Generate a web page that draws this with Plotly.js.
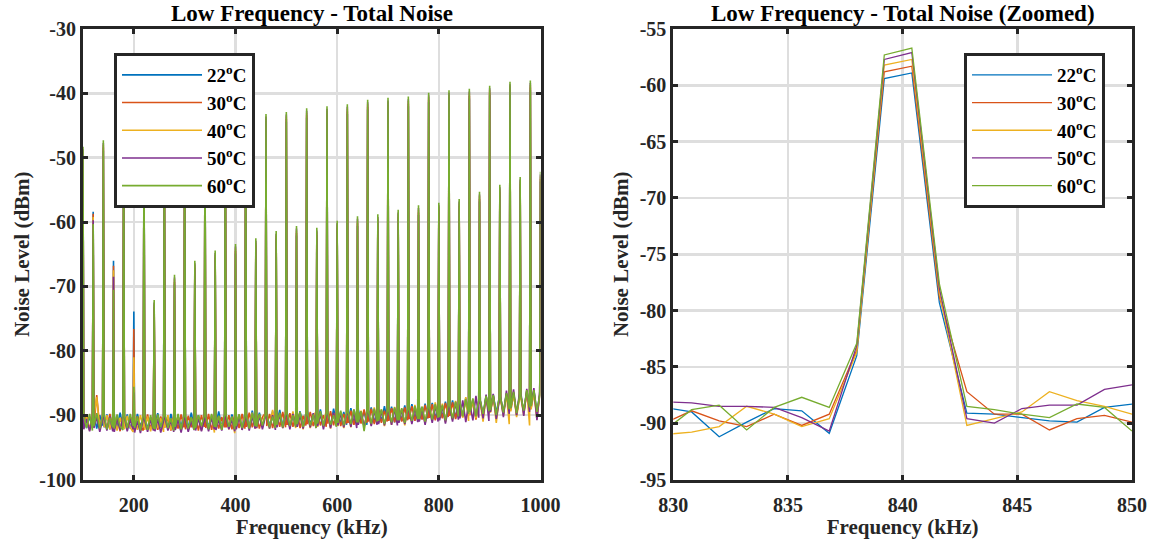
<!DOCTYPE html>
<html>
<head>
<meta charset="utf-8">
<script src="https://cdn.plot.ly/plotly-3.0.1.min.js"></script>
<style>html,body{margin:0;padding:0;background:#fff;}#chart{width:1151px;height:542px;}</style>
</head>
<body>
<div id="chart"></div>
<script>
// ---------- DATA ----------
const seriesNames = ['22<sup>o</sup>C', '30<sup>o</sup>C', '40<sup>o</sup>C', '50<sup>o</sup>C', '60<sup>o</sup>C'];
const seriesColors = ['#0072BD', '#D95319', '#EDB120', '#7E2F8E', '#77AC30'];

// Left panel: harmonic tones every 20 kHz (100..1000 kHz) and noise samples between them
const harmonicStep = 20;
const harmonicStart = 100;
const harmonicCount = 46;
const noiseOffsets = [1.5, 7, 13, 18.5]; // kHz after each harmonic

const peak22 = [-49.8, -58.4, -48.9, -66.0, -48.4, -73.9, -47.9, -73.6, -47.4, -69.7, -46.8, -67.5, -46.4, -65.9, -45.9, -64.9, -45.4, -64.0, -44.7, -62.9, -44.4, -62.1, -43.8, -62.4, -43.5, -61.3, -43.2, -60.6, -42.5, -60.3, -42.2, -59.6, -42.0, -58.9, -41.4, -58.5, -41.0, -57.9, -40.8, -56.8, -40.3, -55.7, -39.7, -54.5, -39.5, -53.7];
const peak30 = [-49.4, -58.7, -48.4, -66.8, -48.0, -76.6, -47.5, -73.2, -47.0, -69.3, -46.4, -67.1, -46.0, -65.5, -45.5, -64.5, -45.0, -63.6, -44.3, -62.5, -44.0, -61.7, -43.4, -62.0, -43.1, -60.9, -42.8, -60.2, -42.1, -59.9, -41.8, -59.2, -41.6, -58.5, -41.0, -58.1, -40.6, -57.5, -40.4, -56.4, -39.9, -55.3, -39.3, -54.1, -39.1, -53.3];
const peak40 = [-49.0, -59.2, -48.0, -67.5, -47.6, -81.0, -47.1, -72.8, -46.6, -68.9, -46.0, -66.7, -45.6, -65.1, -45.1, -64.1, -44.6, -63.2, -43.9, -62.1, -43.6, -61.3, -43.0, -61.6, -42.7, -60.5, -42.4, -59.8, -41.7, -59.5, -41.4, -58.8, -41.2, -58.1, -40.6, -57.7, -40.2, -57.1, -40.0, -56.0, -39.5, -54.9, -38.9, -53.7, -38.7, -52.9];
const peak50 = [-48.7, -59.7, -47.7, -68.5, -47.3, -86.5, -46.8, -72.5, -46.3, -68.6, -45.7, -66.4, -45.3, -64.8, -44.8, -63.8, -44.3, -62.9, -43.6, -61.8, -43.3, -61.0, -42.7, -61.3, -42.4, -60.2, -42.1, -59.5, -41.4, -59.2, -41.1, -58.5, -40.9, -57.8, -40.3, -57.4, -39.9, -56.8, -39.7, -55.7, -39.2, -54.6, -38.6, -53.4, -38.4, -52.6];
const peak60 = [-48.3, -60.3, -47.3, -70.5, -46.9, -85.6, -46.4, -72.1, -45.9, -68.2, -45.3, -66.0, -44.9, -64.4, -44.4, -63.4, -43.9, -62.5, -43.2, -61.4, -42.9, -60.6, -42.3, -60.9, -42.0, -59.8, -41.7, -59.1, -41.0, -58.8, -40.7, -58.1, -40.5, -57.4, -39.9, -57.0, -39.5, -56.4, -39.3, -55.3, -38.8, -54.2, -38.2, -53.0, -38.0, -52.2];

const noise22 = [
-89.8,-92.0,-90.2,-91.9, -89.7,-92.1,-90.0,-91.6, -91.9,-89.9,-92.2,-90.1, -90.0,-92.0,-89.6,-91.8, -91.7,-89.9,-92.1,-90.3,
-91.9,-89.8,-91.8,-90.4, -90.0,-92.2,-90.3,-91.9, -91.6,-89.7,-92.0,-90.2, -90.1,-92.1,-89.8,-91.7, -92.0,-90.2,-91.8,-89.9,
-90.3,-92.0,-89.6,-91.9, -91.8,-90.0,-92.2,-90.3, -89.8,-91.9,-90.1,-92.0, -91.6,-89.4,-91.9,-90.0, -90.2,-92.1,-89.9,-91.8,
-91.8,-89.9,-92.0,-89.7, -89.8,-91.8,-89.3,-91.6, -91.5,-89.6,-91.9,-90.0, -89.7,-91.8,-89.4,-91.7, -91.3,-89.2,-91.7,-89.9,
-89.6,-91.7,-90.0,-91.4, -91.4,-89.4,-91.8,-89.7, -89.3,-91.5,-89.8,-91.8, -91.2,-89.1,-91.6,-89.6, -89.6,-91.8,-89.0,-91.3,
-89.2,-91.4,-89.5,-91.5, -90.9,-88.9,-91.3,-89.3, -89.1,-91.1,-89.3,-91.5, -90.8,-88.8,-91.2,-89.2, -89.0,-91.0,-88.6,-90.9,
-90.7,-88.7,-91.1,-89.1, -88.9,-90.9,-88.5,-90.7, -90.5,-88.3,-90.8,-88.8, -88.6,-90.6,-88.2,-90.5, -90.2,-88.1,-90.6,-88.5,
-88.3,-90.4,-87.9,-90.2, -90.0,-87.7,-90.5,-88.2, -88.0,-90.1,-87.3,-89.8, -89.6,-87.6,-90.2,-87.8, -87.7,-90.0,-87.0,-89.5,
-89.3,-86.8,-89.7,-87.4, -87.3,-89.6,-86.6,-89.2, -89.0,-86.5,-89.9,-87.1, -87.0,-89.4,-86.3,-89.1, -88.7,-86.2,-89.6,-86.9
];
const noise30 = [
-91.8,-89.9,-92.3,-90.1, -91.6,-86.9,-92.0,-90.0, -90.2,-92.2,-89.8,-92.3, -92.1,-90.3,-92.5,-90.0, -90.1,-91.9,-90.3,-92.3,
-92.3,-90.2,-91.8,-92.4, -91.8,-89.9,-92.2,-90.3, -90.0,-92.3,-90.2,-92.0, -91.9,-90.3,-92.4,-90.0, -90.3,-92.1,-89.9,-91.9,
-92.2,-90.1,-91.9,-90.2, -90.2,-92.4,-90.0,-91.8, -92.0,-89.8,-92.3,-90.3, -90.1,-92.1,-90.3,-91.9, -91.9,-90.0,-92.2,-89.9,
-90.2,-92.0,-89.8,-92.1, -91.8,-89.6,-91.9,-90.1, -90.0,-92.1,-90.3,-89.7, -91.7,-89.8,-92.0,-90.2, -89.9,-91.8,-89.5,-91.9,
-91.5,-89.7,-91.8,-90.0, -89.6,-92.0,-90.1,-91.6, -91.4,-89.5,-91.7,-89.8, -89.7,-91.6,-90.0,-91.8, -91.3,-89.4,-91.6,-89.6,
-89.5,-91.7,-89.8,-91.3, -91.2,-89.3,-91.5,-89.7, -89.4,-91.3,-89.1,-91.2, -91.0,-89.0,-91.4,-89.5, -89.2,-91.2,-89.3,-91.0,
-90.9,-88.9,-91.1,-89.2, -89.1,-91.0,-88.8,-90.8, -90.6,-88.6,-90.9,-89.0, -88.8,-90.7,-88.4,-90.5, -90.4,-88.3,-90.8,-88.7,
-88.5,-90.5,-88.1,-90.3, -90.1,-88.0,-90.6,-88.3, -88.2,-90.3,-87.6,-90.0, -89.8,-87.8,-90.7,-88.1, -87.9,-90.2,-87.3,-89.6,
-89.5,-87.1,-90.3,-87.6, -87.5,-89.8,-86.9,-89.3, -89.2,-86.7,-90.0,-87.3, -87.2,-89.6,-86.6,-89.2, -88.9,-86.4,-90.1,-87.0
];
const noise40 = [
-92.1,-90.3,-92.4,-90.6, -90.2,-87.2,-92.3,-90.5, -91.9,-90.0,-92.2,-90.3, -90.1,-92.4,-90.4,-92.0, -92.2,-90.1,-91.9,-92.6,
-90.3,-92.3,-90.0,-91.9, -92.3,-90.2,-92.5,-90.4, -90.2,-92.0,-90.5,-92.6, -91.9,-90.0,-92.3,-90.3, -92.2,-90.4,-92.5,-90.1,
-90.1,-92.3,-90.5,-92.0, -92.0,-90.2,-92.4,-90.4, -90.3,-92.1,-90.0,-92.7, -92.1,-90.2,-91.9,-90.3, -90.0,-92.2,-90.4,-92.8,
-91.9,-89.9,-92.3,-90.1, -90.3,-92.0,-89.6,-92.1, -92.0,-90.0,-91.7,-89.5, -90.1,-92.1,-89.2,-91.8, -91.8,-89.8,-92.0,-90.2,
-89.9,-91.9,-89.4,-92.0, -91.6,-90.0,-92.2,-89.7, -89.8,-92.0,-90.2,-89.4, -91.8,-89.9,-91.7,-89.2, -90.0,-92.1,-89.7,-91.6,
-91.7,-89.6,-92.0,-90.1, -89.7,-91.9,-89.1,-91.6, -91.4,-89.3,-91.8,-89.8, -89.5,-91.6,-88.8,-91.3, -91.2,-89.1,-91.7,-89.4,
-89.3,-91.5,-88.7,-91.1, -91.0,-89.0,-91.6,-89.2, -89.1,-91.2,-88.4,-90.8, -90.8,-88.7,-91.3,-88.8, -88.9,-90.9,-88.0,-90.5,
-90.5,-88.2,-91.1,-88.3, -88.6,-90.7,-87.8,-90.1, -88.1,-90.4,-87.2,-90.9, -90.0,-87.5,-90.5,-87.9, -88.0,-91.0,-87.1,-89.9,
-89.6,-87.0,-91.2,-87.5, -87.6,-90.1,-86.7,-91.4, -89.4,-86.6,-90.3,-87.4, -87.3,-90.0,-86.1,-91.6, -89.1,-86.5,-90.7,-86.8
];
const noise50 = [
-92.2,-90.6,-92.5,-90.4, -92.0,-90.3,-92.6,-90.7, -90.4,-92.4,-90.2,-92.5, -92.6,-90.5,-92.3,-90.4, -90.3,-92.5,-90.6,-92.2,
-92.7,-90.9,-92.8,-90.6, -90.8,-92.6,-90.7,-92.4, -92.5,-90.6,-92.7,-90.9, -90.5,-92.4,-90.8,-92.6, -92.3,-90.7,-92.7,-90.5,
-90.7,-92.6,-90.9,-92.3, -92.4,-90.5,-92.5,-90.8, -90.6,-92.5,-90.4,-92.2, -92.3,-90.7,-92.4,-90.3, -90.5,-92.2,-90.6,-92.5,
-92.2,-90.3,-92.3,-90.7, -90.4,-92.4,-90.2,-92.1, -92.0,-90.1,-92.2,-90.3, -90.2,-92.1,-90.0,-92.3, -91.9,-89.9,-92.0,-90.2,
-90.1,-92.2,-89.8,-91.8, -91.8,-90.0,-92.1,-89.9, -90.0,-91.9,-89.7,-92.0, -91.7,-89.8,-92.2,-90.1, -89.9,-92.0,-89.6,-91.7,
-91.6,-89.7,-91.9,-90.0, -89.8,-91.8,-89.4,-92.0, -91.5,-89.5,-91.8,-89.9, -89.6,-91.7,-89.2,-91.5, -91.4,-89.3,-91.6,-89.7,
-89.5,-91.5,-89.0,-91.6, -91.2,-89.1,-91.4,-89.4, -89.3,-91.4,-88.8,-91.1, -91.0,-88.9,-91.5,-89.1, -89.1,-91.2,-88.5,-91.0,
-90.8,-88.6,-91.3,-88.9, -88.8,-91.0,-88.0,-90.7, -90.5,-87.7,-91.1,-88.3, -88.5,-90.8,-87.0,-90.4, -87.8,-90.5,-86.8,-90.9,
-89.5,-86.7,-90.6,-88.0, -87.0,-90.3,-86.2,-89.8, -88.9,-86.0,-90.0,-86.6, -86.6,-90.1,-85.9,-89.5, -88.5,-85.8,-90.8,-86.3
];
const noise60 = [
-90.2,-92.0,-89.8,-92.4, -91.7,-89.7,-92.1,-90.2, -89.9,-92.2,-90.4,-91.9, -92.1,-89.9,-91.8,-92.3, -90.1,-92.0,-89.8,-91.7,
-92.0,-90.2,-92.4,-90.0, -90.4,-92.3,-90.0,-92.1, -92.2,-89.9,-91.9,-90.3, -90.0,-92.0,-90.5,-92.4, -91.8,-89.8,-92.2,-90.2,
-90.1,-92.1,-90.3,-92.3, -92.0,-90.0,-91.7,-90.1, -90.3,-92.2,-89.8,-91.8, -91.9,-90.1,-92.3,-89.9, -90.0,-91.8,-90.2,-92.2,
-91.7,-89.9,-92.0,-90.4, -90.1,-92.1,-89.7,-91.7, -91.8,-89.8,-91.6,-90.1, -89.9,-91.9,-90.2,-92.0, -91.5,-89.6,-91.9,-89.8,
-89.8,-91.7,-90.0,-91.8, -91.4,-89.5,-91.8,-90.1, -89.7,-91.6,-89.9,-92.0, -91.3,-89.4,-91.7,-89.8, -89.6,-91.5,-90.0,-91.8,
-91.2,-89.3,-91.6,-89.7, -89.5,-91.4,-89.1,-91.1, -91.1,-89.4,-92.5,-89.6, -89.4,-91.3,-89.0,-91.0, -90.9,-89.1,-91.4,-89.4,
-89.3,-91.1,-88.8,-90.8, -90.8,-88.9,-91.2,-89.2, -89.1,-90.9,-88.6,-90.6, -90.6,-88.7,-91.0,-89.0, -88.8,-90.7,-88.3,-90.4,
-90.3,-88.4,-90.8,-88.5, -88.5,-90.5,-87.9,-90.2, -88.0,-90.2,-87.5,-89.8, -89.5,-87.4,-90.2,-87.8, -87.7,-89.8,-87.0,-89.4,
-89.2,-86.9,-90.0,-87.4, -87.3,-89.6,-86.6,-89.1, -88.9,-86.4,-89.7,-87.1, -87.0,-89.3,-86.1,-88.8, -88.6,-86.1,-89.5,-86.8
];

// Right panel: zoom around the 840 kHz tone
const zoomFreq = [829.6, 830.8, 832.0, 833.2, 834.4, 835.6, 836.8, 838.0, 839.2, 840.4, 841.6, 842.8, 844.0, 845.2, 846.4, 847.6, 848.8, 850.0];
const zoom22 = [-88.6, -89.0, -91.2, -89.9, -88.7, -88.9, -90.9, -84.0, -59.4, -58.9, -79.3, -89.1, -89.2, -89.5, -89.8, -89.9, -88.6, -88.3];
const zoom30 = [-90.0, -88.9, -89.8, -90.3, -89.2, -90.2, -89.2, -83.5, -58.8, -58.3, -78.8, -87.2, -89.2, -89.2, -90.6, -89.6, -89.3, -89.9];
const zoom40 = [-91.0, -90.8, -90.3, -88.5, -89.2, -90.3, -89.6, -83.7, -58.2, -57.7, -78.4, -90.2, -89.6, -89.0, -87.2, -88.0, -88.5, -89.2];
const zoom50 = [-88.1, -88.2, -88.5, -88.5, -88.6, -89.5, -90.7, -83.1, -57.7, -57.1, -78.0, -89.6, -90.0, -88.7, -88.4, -88.4, -87.0, -86.6];
const zoom60 = [-90.7, -88.8, -88.4, -90.6, -88.6, -87.7, -88.6, -82.9, -57.3, -56.7, -77.6, -88.5, -88.8, -89.2, -89.5, -88.3, -88.6, -90.7];

// Tick values and labels
const leftXTicks = [200, 400, 600, 800, 1000];
const leftXLabels = ['200', '400', '600', '800', '1000'];
const leftYTicks = [-100, -90, -80, -70, -60, -50, -40, -30];
const leftYLabels = ['-100', '-90', '-80', '-70', '-60', '-50', '-40', '-30'];
const rightXTicks = [830, 835, 840, 845, 850];
const rightXLabels = ['830', '835', '840', '845', '850'];
const rightYTicks = [-95, -90, -85, -80, -75, -70, -65, -60, -55];
const rightYLabels = ['-95', '-90', '-85', '-80', '-75', '-70', '-65', '-60', '-55'];

const leftTitle = 'Low Frequency - Total Noise';
const rightTitle = 'Low Frequency - Total Noise (Zoomed)';
const xLabel = 'Frequency (kHz)';
const yLabel = 'Noise Level (dBm)';

// ---------- BUILD ----------
function buildSpectrum(peaks, noise) {
  const x = [], y = [];
  for (let i = 0; i < harmonicCount; i++) {
    const f = harmonicStart + i * harmonicStep;
    x.push(f); y.push(peaks[i]);
    if (i < harmonicCount - 1) {
      for (let k = 0; k < noiseOffsets.length; k++) {
        x.push(f + noiseOffsets[k]);
        y.push(noise[i * noiseOffsets.length + k]);
      }
    }
  }
  return {x, y};
}
const bold = arr => arr.map(s => '<b>' + s + '</b>');

const peaks = [peak22, peak30, peak40, peak50, peak60];
const noises = [noise22, noise30, noise40, noise50, noise60];
const zooms = [zoom22, zoom30, zoom40, zoom50, zoom60];

const FONT = 'Liberation Serif, Times New Roman, serif';
const traces = [];
for (let s = 0; s < 5; s++) {
  const sp = buildSpectrum(peaks[s], noises[s]);
  traces.push({
    x: sp.x, y: sp.y, type: 'scatter', mode: 'lines', name: seriesNames[s],
    line: {color: seriesColors[s], width: 1.6}, xaxis: 'x', yaxis: 'y', legend: 'legend', hoverinfo: 'none'
  });
}
for (let s = 0; s < 5; s++) {
  traces.push({
    x: zoomFreq, y: zooms[s], type: 'scatter', mode: 'lines', name: seriesNames[s],
    line: {color: seriesColors[s], width: 1.3}, xaxis: 'x2', yaxis: 'y2', legend: 'legend2', hoverinfo: 'none'
  });
}

const W = 1151, H = 542;
const axisCommon = {
  showline: true, mirror: 'allticks', linecolor: '#262626', linewidth: 3,
  ticks: 'inside', ticklen: 5, tickwidth: 3, tickcolor: '#262626',
  showgrid: true, gridcolor: '#dedede', gridwidth: 2.5, zeroline: false,
  tickmode: 'array',
  tickfont: {family: FONT, size: 20, color: '#262626'},
  fixedrange: true
};
const yDom = [1 - 479.5 / H, 1 - 29 / H];
const xTitleFont = {family: FONT, size: 21, color: '#262626'};

const layout = {
  width: W, height: H,
  margin: {l: 0, r: 0, t: 0, b: 0},
  paper_bgcolor: '#ffffff', plot_bgcolor: '#ffffff',
  showlegend: true,
  font: {family: FONT, color: '#000'},
  xaxis: Object.assign({}, axisCommon, {
    domain: [83 / W, 540.5 / W], range: [100, 1000], tickvals: leftXTicks, ticktext: bold(leftXLabels), anchor: 'y',
    ticklabelstandoff: 5,
    title: {text: '<b>' + xLabel + '</b>', font: xTitleFont, standoff: 1}
  }),
  yaxis: Object.assign({}, axisCommon, {
    domain: yDom, range: [-100, -30], tickvals: leftYTicks, ticktext: bold(leftYLabels), anchor: 'x',
    title: {text: '<b>' + yLabel + '</b>', font: xTitleFont, standoff: 4}
  }),
  xaxis2: Object.assign({}, axisCommon, {
    domain: [673.3 / W, 1132 / W], range: [830, 850], tickvals: rightXTicks, ticktext: bold(rightXLabels), anchor: 'y2',
    ticklabelstandoff: 5,
    title: {text: '<b>' + xLabel + '</b>', font: xTitleFont, standoff: 1}
  }),
  yaxis2: Object.assign({}, axisCommon, {
    domain: yDom, range: [-95, -55], tickvals: rightYTicks, ticktext: bold(rightYLabels), anchor: 'x2',
    title: {text: '<b>' + yLabel + '</b>', font: xTitleFont, standoff: 6}
  }),
  legend: {
    x: 114 / W, y: 1 - 53 / H, xanchor: 'left', yanchor: 'top',
    bgcolor: '#ffffff', bordercolor: '#262626', borderwidth: 3,
    font: {family: FONT, size: 19, color: '#000', weight: 'bold'},
    itemwidth: 80, tracegroupgap: 0, itemclick: false, itemdoubleclick: false
  },
  legend2: {
    x: 964 / W, y: 1 - 53 / H, xanchor: 'left', yanchor: 'top',
    bgcolor: '#ffffff', bordercolor: '#262626', borderwidth: 3,
    font: {family: FONT, size: 19, color: '#000', weight: 'bold'},
    itemwidth: 80, tracegroupgap: 0, itemclick: false, itemdoubleclick: false
  },
  annotations: [
    {text: '<b>' + leftTitle + '</b>', xref: 'paper', yref: 'paper', x: (83 + 540.5) / 2 / W, y: 1 - 14 / H,
     xanchor: 'center', yanchor: 'middle', showarrow: false, font: {family: FONT, size: 23, color: '#000'}},
    {text: '<b>' + rightTitle + '</b>', xref: 'paper', yref: 'paper', x: (673.3 + 1132) / 2 / W, y: 1 - 14 / H,
     xanchor: 'center', yanchor: 'middle', showarrow: false, font: {family: FONT, size: 23, color: '#000'}}
  ]
};

Plotly.newPlot('chart', traces, layout, {staticPlot: true, displayModeBar: false});
</script>
</body>
</html>
